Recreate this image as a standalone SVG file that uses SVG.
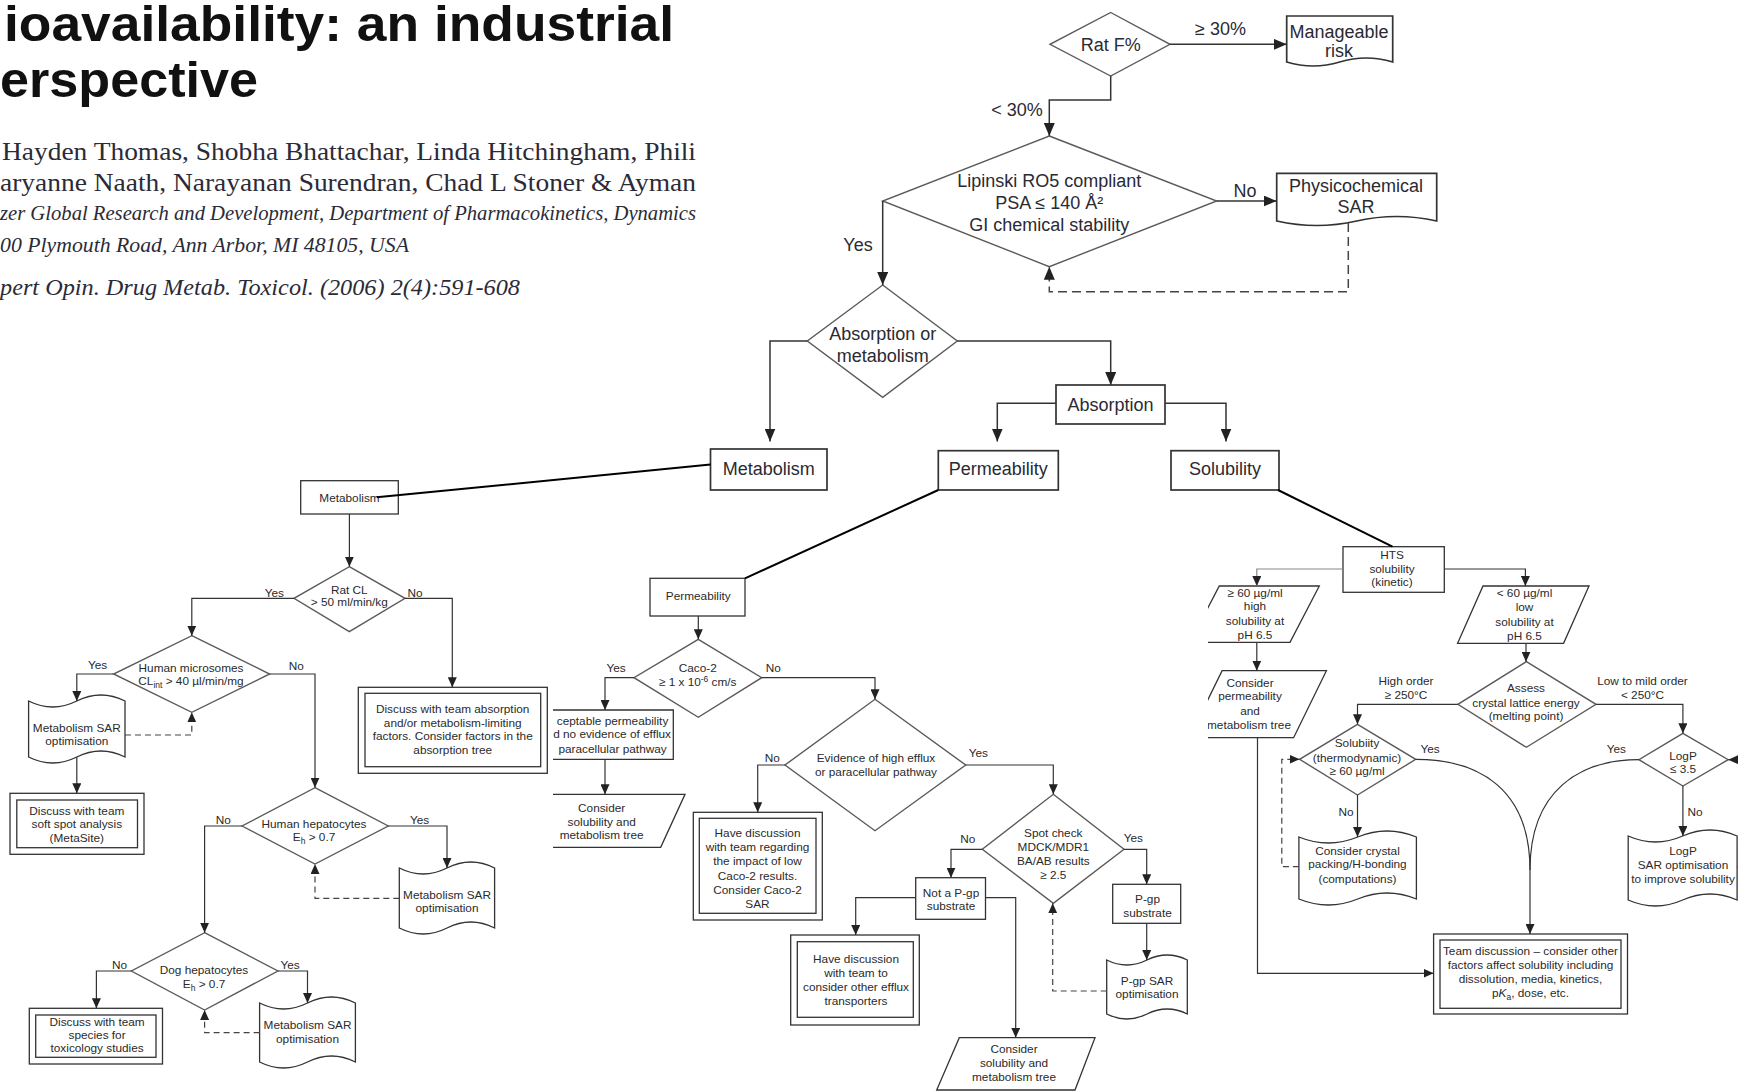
<svg xmlns="http://www.w3.org/2000/svg" width="1738" height="1091" viewBox="0 0 1738 1091">
<defs>
<style>
.hd{font-family:"Liberation Sans",Arial,sans-serif;font-weight:700;fill:#111;font-size:50px;}
.au{font-family:"Liberation Serif",serif;fill:#2b2b38;}
.it{font-family:"Liberation Serif",serif;font-style:italic;fill:#2b2b38;}
.t{font-family:"Liberation Sans",Arial,sans-serif;font-size:18px;fill:#2a2a33;text-anchor:middle;}
.s{font-family:"Liberation Sans",Arial,sans-serif;font-size:11.8px;fill:#2a2a2a;text-anchor:middle;}
.se{font-family:"Liberation Sans",Arial,sans-serif;font-size:11.8px;fill:#2a2a2a;text-anchor:end;}
.box{fill:#fff;stroke:#333;stroke-width:1.7;}
.sbox{fill:#fff;stroke:#333;stroke-width:1.3;}
.dia{fill:#fff;stroke:#5a5a5a;stroke-width:1.4;}
.ln{fill:none;stroke:#333;stroke-width:1.5;}
.sl{fill:none;stroke:#333;stroke-width:1.2;}
.dl{fill:none;stroke:#444;stroke-width:1.5;stroke-dasharray:9 5;}
.ds{fill:none;stroke:#444;stroke-width:1.2;stroke-dasharray:6 4;}
.tk{fill:none;stroke:#000;stroke-width:2;}
</style>
<marker id="ab" markerUnits="userSpaceOnUse" markerWidth="13" markerHeight="11" refX="13" refY="5.5" orient="auto"><path d="M0,0 L13,5.5 L0,11 Z" fill="#222"/></marker>
<marker id="as" markerUnits="userSpaceOnUse" markerWidth="10" markerHeight="9" refX="10" refY="4.5" orient="auto"><path d="M0,0 L10,4.5 L0,9 Z" fill="#222"/></marker>
<clipPath id="cs"><rect x="1208" y="540" width="300" height="250"/></clipPath>
</defs>
<rect x="0" y="0" width="1738" height="1091" fill="#fff"/>

<g id="header">
<text class="hd" x="4" y="41" font-size="42" textLength="670" lengthAdjust="spacingAndGlyphs">ioavailability: an industrial</text>
<text class="hd" x="0" y="97" textLength="258" lengthAdjust="spacingAndGlyphs">erspective</text>
<text class="au" x="2" y="159.5" font-size="26" textLength="694" lengthAdjust="spacingAndGlyphs">Hayden Thomas, Shobha Bhattachar, Linda Hitchingham, Phili</text>
<text class="au" x="0" y="190.5" font-size="26" textLength="696" lengthAdjust="spacingAndGlyphs">aryanne Naath, Narayanan Surendran, Chad L Stoner &amp; Ayman</text>
<text class="it" x="0" y="219.5" font-size="20" textLength="696" lengthAdjust="spacingAndGlyphs">zer Global Research and Development, Department of Pharmacokinetics, Dynamics</text>
<text class="it" x="0" y="252" font-size="21" textLength="409" lengthAdjust="spacingAndGlyphs">00 Plymouth Road, Ann Arbor, MI 48105, USA</text>
<text class="it" x="0" y="295" font-size="23" textLength="520" lengthAdjust="spacingAndGlyphs">pert Opin. Drug Metab. Toxicol. (2006) 2(4):591-608</text>
</g>

<!-- Top level -->
<g id="ratF">
<path class="dia" d="M1110.7,12.5 L1170,44.3 L1110.7,76 L1050,44.3 Z"/>
<text class="t" x="1110.7" y="51">Rat F%</text>
</g>
<g id="manageable">
<path class="box" d="M1286.7,16 H1392.7 V62 Q1366.2,54 1339.7,62 T1286.7,62 Z"/>
<text class="t" x="1339" y="37.5">Manageable</text>
<text class="t" x="1339" y="56.5">risk</text>
</g>
<g id="lipinski">
<path class="dia" d="M1049.3,136 L1216.7,201 L1049.3,266.7 L882.7,201 Z"/>
<text class="t" x="1049.3" y="187">Lipinski RO5 compliant</text>
<text class="t" x="1049.3" y="208.5">PSA ≤ 140 Å²</text>
<text class="t" x="1049.3" y="230.5">GI chemical stability</text>
</g>
<g id="physchem">
<path class="box" d="M1276.7,173.3 H1436.7 V221 Q1396.7,212 1356.7,221 T1276.7,221 Z"/>
<text class="t" x="1356" y="191.5">Physicochemical</text>
<text class="t" x="1356" y="212.5">SAR</text>
</g>
<g id="absOrMet">
<path class="dia" d="M882.7,285 L957.3,341 L882.7,397.3 L807.3,341 Z"/>
<text class="t" x="882.7" y="340">Absorption or</text>
<text class="t" x="882.7" y="361.5">metabolism</text>
</g>
<g id="absorption">
<rect class="box" x="1056" y="385" width="109" height="39"/>
<text class="t" x="1110.5" y="410.5">Absorption</text>
</g>
<g id="metabolismMain">
<rect class="box" x="710.5" y="449" width="116.5" height="41"/>
<text class="t" x="768.7" y="475">Metabolism</text>
</g>
<g id="permeabilityMain">
<rect class="box" x="938.3" y="450.7" width="120" height="39.3"/>
<text class="t" x="998.3" y="475">Permeability</text>
</g>
<g id="solubilityMain">
<rect class="box" x="1171" y="450.7" width="108" height="39.3"/>
<text class="t" x="1225" y="475">Solubility</text>
</g>

<!-- Metabolism subtree -->
<g id="metSmall">
<rect class="sbox" x="300.7" y="480.7" width="97.6" height="33.3"/>
<text class="s" x="349.5" y="501.5">Metabolism</text>
</g>
<g id="ratCL">
<path class="dia" d="M349.3,566.7 L405,598.3 L349.3,631.7 L294,598.3 Z"/>
<text class="s" x="349.3" y="593.5">Rat CL</text>
<text class="s" x="349.3" y="606">&gt; 50 ml/min/kg</text>
</g>
<g id="discussAbs">
<rect class="sbox" x="358.3" y="687.3" width="189" height="86"/>
<rect class="sbox" x="365" y="693.3" width="175.7" height="73.4"/>
<text class="s" x="452.7" y="713.3">Discuss with team absorption</text>
<text class="s" x="452.7" y="726.5">and/or metabolism-limiting</text>
<text class="s" x="452.7" y="740">factors. Consider factors in the</text>
<text class="s" x="452.7" y="753.5">absorption tree</text>
</g>
<g id="humanMic">
<path class="dia" d="M191.8,635.7 L269.6,674 L191.8,712.3 L113.6,674 Z"/>
<text class="s" x="191" y="671.7">Human microsomes</text>
<text class="s" x="191" y="684.5">CL<tspan font-size="8.5" dy="3">int</tspan><tspan dy="-3"> &gt; 40 µl/min/mg</tspan></text>
</g>
<g id="metSAR1">
<path class="sbox" d="M28.6,701 Q52.7,713 76.8,701 T125,701 L125,757 Q100.9,745 76.8,757 T28.6,757 Z"/>
<text class="s" x="76.8" y="731.7">Metabolism SAR</text>
<text class="s" x="76.8" y="745">optimisation</text>
</g>
<g id="softSpot">
<rect class="sbox" x="10" y="793.3" width="134" height="61"/>
<rect class="sbox" x="16.8" y="800" width="120.7" height="47.7"/>
<text class="s" x="76.8" y="815">Discuss with team</text>
<text class="s" x="76.8" y="828.3">soft spot analysis</text>
<text class="s" x="76.8" y="841.7">(MetaSite)</text>
</g>
<g id="humanHep">
<path class="dia" d="M315,787.7 L388.2,826 L315,864 L242.1,826 Z"/>
<text class="s" x="314" y="827.7">Human hepatocytes</text>
<text class="s" x="314" y="841">E<tspan font-size="8.5" dy="3">h</tspan><tspan dy="-3"> &gt; 0.7</tspan></text>
</g>
<g id="metSAR2">
<path class="sbox" d="M399.3,868 Q423.1,880 447,868 T494.6,868 L494.6,928 Q470.8,916 447,928 T399.3,928 Z"/>
<text class="s" x="447" y="899.3">Metabolism SAR</text>
<text class="s" x="447" y="911.7">optimisation</text>
</g>
<g id="dogHep">
<path class="dia" d="M204.6,932.7 L277.9,971 L204.6,1010 L131.4,971 Z"/>
<text class="s" x="204" y="974.3">Dog hepatocytes</text>
<text class="s" x="204" y="987.7">E<tspan font-size="8.5" dy="3">h</tspan><tspan dy="-3"> &gt; 0.7</tspan></text>
</g>
<g id="discussTox">
<rect class="sbox" x="29.3" y="1008.3" width="133.2" height="55.7"/>
<rect class="sbox" x="35.7" y="1015" width="120.3" height="42.3"/>
<text class="s" x="97.1" y="1025.7">Discuss with team</text>
<text class="s" x="97.1" y="1039.3">species for</text>
<text class="s" x="97.1" y="1051.7">toxicology studies</text>
</g>
<g id="metSAR3">
<path class="sbox" d="M259.6,1003 Q283.6,1015 307.5,1003 T355.4,1003 L355.4,1062 Q331.5,1050 307.5,1062 T259.6,1062 Z"/>
<text class="s" x="307.5" y="1029.3">Metabolism SAR</text>
<text class="s" x="307.5" y="1043.3">optimisation</text>
</g>

<!-- Permeability subtree -->
<g id="permSmall">
<rect class="sbox" x="650" y="578.3" width="95" height="37.7"/>
<text class="s" x="698.3" y="600">Permeability</text>
</g>
<g id="caco2">
<path class="dia" d="M698.3,639.3 L761.7,677.7 L698.3,717.3 L634,677.7 Z"/>
<text class="s" x="697.7" y="672.3">Caco-2</text>
<text class="s" x="697.7" y="685.5">≥ 1 x 10<tspan font-size="8.5" dy="-4">-6</tspan><tspan dy="4"> cm/s</tspan></text>
</g>
<g id="acceptable">
<path class="sbox" d="M553,710 H673.3 V759.3 H553"/>
<text class="se" x="668.3" y="725">ceptable permeability</text>
<text class="se" x="671" y="738.3">d no evidence of efflux</text>
<text class="se" x="666.7" y="752.7">paracellular pathway</text>
</g>
<g id="considerSolMet1">
<path class="sbox" d="M553,794.3 H685 L660.7,847.3 H553"/>
<text class="s" x="601.7" y="811.7">Consider</text>
<text class="s" x="601.7" y="826">solubility and</text>
<text class="s" x="601.7" y="839.3">metabolism tree</text>
</g>
<g id="evidence">
<path class="dia" d="M875,699.3 L965.7,765 L875,830.7 L785,765 Z"/>
<text class="s" x="876" y="761.7">Evidence of high efflux</text>
<text class="s" x="876" y="776">or paracellular pathway</text>
</g>
<g id="haveDisc1">
<rect class="sbox" x="693.3" y="812.3" width="129" height="107.7"/>
<rect class="sbox" x="699.3" y="818.3" width="116.7" height="95"/>
<text class="s" x="757.5" y="836.7">Have discussion</text>
<text class="s" x="757.5" y="851">with team regarding</text>
<text class="s" x="757.5" y="865.3">the impact of low</text>
<text class="s" x="757.5" y="879.6">Caco-2 results.</text>
<text class="s" x="757.5" y="893.9">Consider Caco-2</text>
<text class="s" x="757.5" y="908.2">SAR</text>
</g>
<g id="spotCheck">
<path class="dia" d="M1053.3,794.3 L1124,849.3 L1053.3,903.3 L982.3,849.3 Z"/>
<text class="s" x="1053.3" y="836.7">Spot check</text>
<text class="s" x="1053.3" y="850.8">MDCK/MDR1</text>
<text class="s" x="1053.3" y="865">BA/AB results</text>
<text class="s" x="1053.3" y="879">≥ 2.5</text>
</g>
<g id="notPgp">
<rect class="sbox" x="915.7" y="877.7" width="69.8" height="41.6"/>
<text class="s" x="951" y="896.7">Not a P-gp</text>
<text class="s" x="951" y="910">substrate</text>
</g>
<g id="haveDisc2">
<rect class="sbox" x="790.7" y="935" width="128.6" height="90"/>
<rect class="sbox" x="797.3" y="941.7" width="116" height="75.6"/>
<text class="s" x="856" y="962.7">Have discussion</text>
<text class="s" x="856" y="976.7">with team to</text>
<text class="s" x="856" y="991">consider other efflux</text>
<text class="s" x="856" y="1005">transporters</text>
</g>
<g id="considerSolMet2">
<path class="sbox" d="M959.3,1037.7 H1095 L1075,1090 H936.7 Z"/>
<text class="s" x="1014" y="1052.7">Consider</text>
<text class="s" x="1014" y="1067.3">solubility and</text>
<text class="s" x="1014" y="1080.5">metabolism tree</text>
</g>
<g id="pgpSub">
<rect class="sbox" x="1112.7" y="884.3" width="68" height="39"/>
<text class="s" x="1147.5" y="902.7">P-gp</text>
<text class="s" x="1147.5" y="916.7">substrate</text>
</g>
<g id="pgpSAR">
<path class="sbox" d="M1106.7,960 Q1126.9,970 1147,960 T1187.3,960 L1187.3,1014 Q1167.2,1004 1147,1014 T1106.7,1014 Z"/>
<text class="s" x="1147" y="985">P-gp SAR</text>
<text class="s" x="1147" y="998.3">optimisation</text>
</g>

<!-- Solubility subtree -->
<g id="hts">
<rect class="sbox" x="1343" y="546.7" width="101.3" height="45.6"/>
<text class="s" x="1392" y="558.5">HTS</text>
<text class="s" x="1392" y="572.7">solubility</text>
<text class="s" x="1392" y="586.3">(kinetic)</text>
</g>
<g id="highSol" clip-path="url(#cs)">
<path class="sbox" d="M1219.3,586 H1319.3 L1290,642.3 H1190 Z"/>
<text class="s" x="1255" y="596.7">≥ 60 µg/ml</text>
<text class="s" x="1255" y="610">high</text>
<text class="s" x="1255" y="625">solubility at</text>
<text class="s" x="1255" y="639">pH 6.5</text>
</g>
<g id="considerPermMet" clip-path="url(#cs)">
<path class="sbox" d="M1222.1,670.7 H1326.4 L1293.6,737.7 H1189.3 Z"/>
<text class="s" x="1250" y="686.7">Consider</text>
<text class="s" x="1250" y="700">permeability</text>
<text class="s" x="1250" y="715">and</text>
<text class="s" x="1249" y="729.3">metabolism tree</text>
</g>
<g id="lowSol">
<path class="sbox" d="M1483,586 H1589 L1563.6,643.3 H1457.6 Z"/>
<text class="s" x="1524.5" y="597.3">&lt; 60 µg/ml</text>
<text class="s" x="1524.5" y="610.7">low</text>
<text class="s" x="1524.5" y="625.7">solubility at</text>
<text class="s" x="1524.5" y="640">pH 6.5</text>
</g>
<g id="assess">
<path class="dia" d="M1526.4,661.7 L1596,704.3 L1526.4,747.3 L1457.9,704.3 Z"/>
<text class="s" x="1526" y="692.3">Assess</text>
<text class="s" x="1526" y="706.7">crystal lattice energy</text>
<text class="s" x="1526" y="720">(melting point)</text>
</g>
<g id="thermoSol">
<path class="dia" d="M1357.5,724.3 L1415.7,759.3 L1357.5,795 L1299.6,759.3 Z"/>
<text class="s" x="1357" y="747.3">Solubiity</text>
<text class="s" x="1357" y="761.7">(thermodynamic)</text>
<text class="s" x="1357" y="775">≥ 60 µg/ml</text>
</g>
<g id="crystal">
<path class="sbox" d="M1298.9,837 Q1328.3,849 1357.7,837 T1416.4,837 L1416.4,899 Q1387,887 1357.7,899 T1298.9,899 Z"/>
<text class="s" x="1357.5" y="855">Consider crystal</text>
<text class="s" x="1357.5" y="868.3">packing/H-bonding</text>
<text class="s" x="1357.5" y="882.7">(computations)</text>
</g>
<g id="logP">
<path class="dia" d="M1682.9,733.3 L1728.2,759.7 L1682.9,786 L1638.9,759.7 Z"/>
<text class="s" x="1683" y="760">LogP</text>
<text class="s" x="1683" y="773">≤ 3.5</text>
</g>
<g id="logPSAR">
<path class="sbox" d="M1628.2,836 Q1655.4,848 1682.7,836 T1737.1,836 L1737.1,900 Q1709.9,888 1682.7,900 T1628.2,900 Z"/>
<text class="s" x="1683" y="855">LogP</text>
<text class="s" x="1683" y="869.3">SAR optimisation</text>
<text class="s" x="1683" y="883.3">to improve solubility</text>
</g>
<g id="teamDisc">
<rect class="sbox" x="1433.6" y="934" width="193.9" height="80"/>
<rect class="sbox" x="1440" y="940" width="181" height="68.3"/>
<text class="s" x="1530.5" y="955">Team discussion – consider other</text>
<text class="s" x="1530.5" y="968.5">factors affect solubility including</text>
<text class="s" x="1530.5" y="982.7">dissolution, media, kinetics,</text>
<text class="s" x="1530.5" y="997.3">p<tspan font-style="italic">K</tspan><tspan font-size="8.5" dy="3">a</tspan><tspan dy="-3">, dose, etc.</tspan></text>
</g>

<g id="connectors">
<!-- top level -->
<path class="ln" d="M1170,44.3 H1286.7" marker-end="url(#ab)"/>
<path class="ln" d="M1110.7,76 V100 H1049.3 V136" marker-end="url(#ab)"/>
<path class="ln" d="M1216.7,201 H1276.7" marker-end="url(#ab)"/>
<path class="dl" d="M1348.3,223 V291.7 H1049.3 V266.7" marker-end="url(#ab)"/>
<path class="ln" d="M882.7,201 V285" marker-end="url(#ab)"/>
<path class="ln" d="M807.3,341 H770 V441.5" marker-end="url(#ab)"/>
<path class="ln" d="M957.3,341 H1110.7 V385" marker-end="url(#ab)"/>
<path class="ln" d="M1056,403.3 H997.3 V441.5" marker-end="url(#ab)"/>
<path class="ln" d="M1165,403.3 H1226 V441.5" marker-end="url(#ab)"/>
<path class="tk" d="M710.5,464.5 L376.7,497.3"/>
<path class="tk" d="M938.3,490 L745,578.3"/>
<path class="tk" d="M1278,490 L1392.5,546.7"/>
<!-- metabolism subtree -->
<path class="sl" d="M349.4,514 V566.7" marker-end="url(#as)"/>
<path class="sl" d="M405,598.3 H452.3 V687.3" marker-end="url(#as)"/>
<path class="sl" d="M294,598.3 H191.8 V635.7" marker-end="url(#as)"/>
<path class="sl" d="M113.6,674 H76.8 V701" marker-end="url(#as)"/>
<path class="sl" d="M76.8,757 V793.3" marker-end="url(#as)"/>
<path class="ds" d="M125,735 H191.8 V712.3" marker-end="url(#as)"/>
<path class="sl" d="M269.6,674 H315 V787.7" marker-end="url(#as)"/>
<path class="sl" d="M388.2,826 H447 V868" marker-end="url(#as)"/>
<path class="ds" d="M399.3,898.3 H315 V864" marker-end="url(#as)"/>
<path class="sl" d="M242.1,826 H204.6 V932.7" marker-end="url(#as)"/>
<path class="sl" d="M131.4,971 H96.4 V1008.3" marker-end="url(#as)"/>
<path class="sl" d="M277.9,971 H307.5 V1003" marker-end="url(#as)"/>
<path class="ds" d="M259.6,1032.7 H204.6 V1010" marker-end="url(#as)"/>
<!-- permeability subtree -->
<path class="sl" d="M698.3,616 V639.3" marker-end="url(#as)"/>
<path class="sl" d="M634,677.7 H605 V710" marker-end="url(#as)"/>
<path class="sl" d="M605,759.3 V794.3" marker-end="url(#as)"/>
<path class="sl" d="M761.7,677.7 H875 V699.3" marker-end="url(#as)"/>
<path class="sl" d="M785,765 H757.7 V812.3" marker-end="url(#as)"/>
<path class="sl" d="M965.7,765 H1053.3 V794.3" marker-end="url(#as)"/>
<path class="sl" d="M982.3,849.3 H951 V877.7" marker-end="url(#as)"/>
<path class="sl" d="M915.7,897.7 H855.7 V935" marker-end="url(#as)"/>
<path class="sl" d="M985.5,897.7 H1015.7 V1037.7" marker-end="url(#as)"/>
<path class="sl" d="M1124,849.3 H1146.7 V884.3" marker-end="url(#as)"/>
<path class="sl" d="M1146.7,923.3 V960" marker-end="url(#as)"/>
<path class="ds" d="M1106.7,991 H1052.7 V903.3" marker-end="url(#as)"/>
<!-- solubility subtree -->
<path class="sl" style="stroke:#888" d="M1343,569 H1256.8 V586" marker-end="url(#as)"/>
<path class="sl" d="M1256.8,642.3 V670.7" marker-end="url(#as)"/>
<path class="sl" d="M1257.5,737.7 V973.3 H1433.6" marker-end="url(#as)"/>
<path class="sl" d="M1444.3,569 H1525.4 V586" marker-end="url(#as)"/>
<path class="sl" d="M1526,643.3 V661.7" marker-end="url(#as)"/>
<path class="sl" d="M1457.9,704.3 H1357.5 V724.3" marker-end="url(#as)"/>
<path class="sl" d="M1596,704.3 H1682.9 V733.3" marker-end="url(#as)"/>
<path class="sl" d="M1415.7,759.3 C1480,759.3 1530,790 1530,870 V934" marker-end="url(#as)"/>
<path class="sl" d="M1638.9,759.7 C1580,759.7 1530,790 1530,870"/>
<path class="sl" d="M1357.5,795 V837" marker-end="url(#as)"/>
<path class="ds" d="M1298.9,866.7 H1281.8 V759.3 H1299.6" marker-end="url(#as)"/>
<path class="sl" d="M1682.9,786 V836" marker-end="url(#as)"/>
<path class="ds" d="M1737.1,866.7 H1745 V759.7 H1728.2" marker-end="url(#as)"/>
</g>

<g id="labels">
<text class="t" x="1220.5" y="35">≥ 30%</text>
<text class="t" x="1017" y="115.5">&lt; 30%</text>
<text class="t" x="1245" y="196.5">No</text>
<text class="t" x="858" y="250.5">Yes</text>
<text class="s" x="415" y="597">No</text>
<text class="s" x="274.3" y="597">Yes</text>
<text class="s" x="97.5" y="668.5">Yes</text>
<text class="s" x="296.4" y="669.5">No</text>
<text class="s" x="419.6" y="823.5">Yes</text>
<text class="s" x="223.2" y="823.5">No</text>
<text class="s" x="119.6" y="969">No</text>
<text class="s" x="290" y="969">Yes</text>
<text class="s" x="616" y="672">Yes</text>
<text class="s" x="773.3" y="672">No</text>
<text class="s" x="772.3" y="761.5">No</text>
<text class="s" x="978.3" y="757.3">Yes</text>
<text class="s" x="967.7" y="842.7">No</text>
<text class="s" x="1133.3" y="841.7">Yes</text>
<text class="s" x="1406" y="685">High order</text>
<text class="s" x="1406" y="699.3">≥ 250°C</text>
<text class="s" x="1642.5" y="685">Low to mild order</text>
<text class="s" x="1642.5" y="699.3">&lt; 250°C</text>
<text class="s" x="1430" y="753">Yes</text>
<text class="s" x="1616.4" y="753">Yes</text>
<text class="s" x="1346" y="816">No</text>
<text class="s" x="1695" y="816">No</text>
</g>
</svg>
